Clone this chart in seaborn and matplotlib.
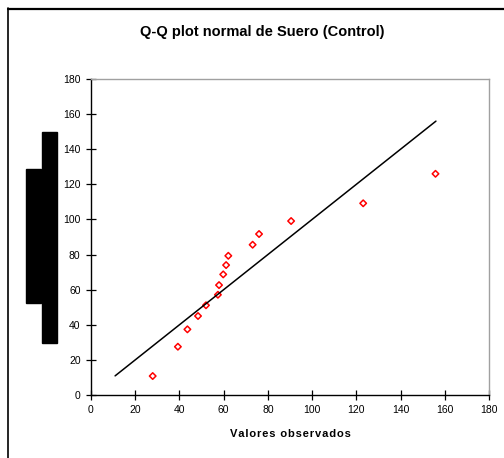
import numpy as np
import pandas as pd
import seaborn as sns
import matplotlib.pyplot as plt
from matplotlib.patches import Rectangle
from matplotlib.lines import Line2D

# Datos (valores observados vs cuantiles teoricos)
observados = [27.9, 39.3, 43.6, 48.4, 52.0, 57.4, 57.9, 59.8, 61.1, 62.1,
              73.1, 76.0, 90.5, 123.1, 155.8]
teoricos = [10.8, 27.5, 37.4, 45.0, 51.1, 57.1, 62.6, 68.7, 74.0, 79.3,
            85.6, 91.7, 99.1, 109.2, 126.0]
# Recta de referencia y = x
recta_x = [10.9, 156.0]
recta_y = [10.9, 156.0]
ticks = [0, 20, 40, 60, 80, 100, 120, 140, 160, 180]

titulo = "Q-Q plot normal de Suero (Control)"
etiqueta_x = "Valores observados"

sns.set_style("white")
plt.rcParams["font.family"] = ["Liberation Sans", "DejaVu Sans"]
plt.rcParams["text.color"] = "black"
plt.rcParams["axes.labelcolor"] = "black"

df = pd.DataFrame({"obs": observados, "teo": teoricos})
df_recta = pd.DataFrame({"x": recta_x, "y": recta_y})

fig = plt.figure(figsize=(5.04, 4.58), dpi=100)
ax = fig.add_axes([91 / 504, 63 / 458, 398 / 504, 316 / 458])

sns.lineplot(data=df_recta, x="x", y="y", ax=ax, color="black", linewidth=1.1)
sns.scatterplot(data=df, x="obs", y="teo", ax=ax, marker="D", s=11,
                facecolor="none", edgecolor="red", linewidth=1.1)

ax.set_xlim(0, 180)
ax.set_ylim(0, 180)
ax.set_xticks(ticks)
ax.set_yticks(ticks)
ax.tick_params(bottom=True, left=True, direction="inout", length=7,
               width=0.9, labelsize=7.5, colors="black", pad=4)
# Espaciado entre letras como en el original
ax.set_xlabel("\u200a".join(etiqueta_x), fontsize=8,
              fontweight="bold", labelpad=10)
ax.set_ylabel("")

# Bordes: ejes negros, marco del area de trazado gris
for lado in ["left", "bottom"]:
    ax.spines[lado].set_color("black")
    ax.spines[lado].set_linewidth(1.0)
for lado in ["top", "right"]:
    ax.spines[lado].set_color("#a0a0a0")
    ax.spines[lado].set_linewidth(1.0)

fig.text(262 / 504, 1 - 32 / 458, titulo, ha="center", va="center",
         fontsize=10.5, fontweight="bold", color="black")

# Marco exterior del grafico
fig.add_artist(Line2D([8 / 504, 8 / 504], [0, 1 - 8 / 458],
                      transform=fig.transFigure, color="black", linewidth=1.2))
fig.add_artist(Line2D([8 / 504, 1], [1 - 8.5 / 458, 1 - 8.5 / 458],
                      transform=fig.transFigure, color="black", linewidth=1.6))

# Barras negras que tapan la etiqueta del eje y
fig.add_artist(Rectangle((26 / 504, 1 - 303 / 458), 15 / 504, 134 / 458,
                         transform=fig.transFigure, color="black"))
fig.add_artist(Rectangle((42 / 504, 1 - 342.5 / 458), 15 / 504, 211 / 458,
                         transform=fig.transFigure, color="black"))

fig.savefig("out.png", dpi=100)
plt.close()
